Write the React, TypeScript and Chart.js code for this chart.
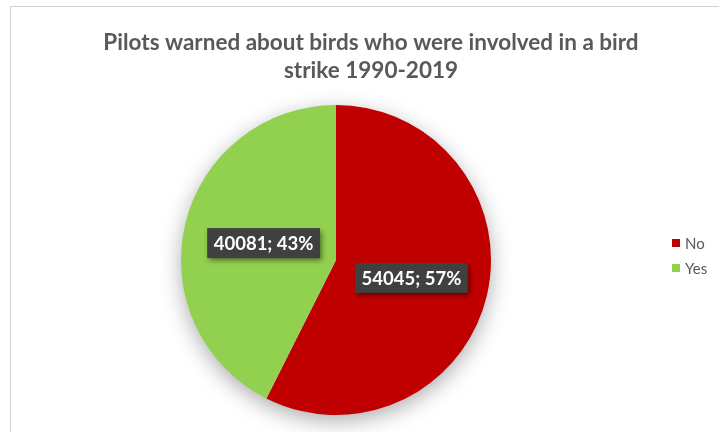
import React, { useEffect, useRef } from "react";
import { Chart, registerables } from "chart.js";

Chart.register(...registerables);

const categories = ["No", "Yes"];
const values = [54045, 40081];
const colors = ["#C00000", "#92D050"];
const titleLines = ["Pilots warned about birds who were involved in a bird", "strike 1990-2019"];

const FONT = "Lato, 'Open Sans', 'Liberation Sans', sans-serif";

const framePlugin = {
  id: "frame",
  beforeDraw(chart: any) {
    const ctx = chart.ctx;
    ctx.save();
    ctx.fillStyle = "#ffffff";
    ctx.fillRect(0, 0, chart.width, chart.height);
    ctx.strokeStyle = "#d0d0d0";
    ctx.lineWidth = 1;
    ctx.beginPath();
    ctx.moveTo(10.5, chart.height + 5);
    ctx.lineTo(10.5, 6.5);
    ctx.lineTo(chart.width + 5, 6.5);
    ctx.stroke();
    // title
    ctx.fillStyle = "#595959";
    ctx.font = `bold 22.5px ${FONT}`;
    ctx.textAlign = "center";
    ctx.textBaseline = "middle";
    titleLines.forEach((t, i) => ctx.fillText(t, 371, 43 + i * 28));
    // legend
    ctx.font = `15px ${FONT}`;
    ctx.textAlign = "left";
    categories.forEach((c, i) => {
      const y = 243 + i * 25;
      ctx.fillStyle = colors[i];
      ctx.fillRect(672, y - 4, 8, 8);
      ctx.fillStyle = "#595959";
      ctx.fillText(c, 685, y + 1);
    });
    ctx.restore();
  },
  beforeDatasetsDraw(chart: any) {
    const meta = chart.getDatasetMeta(0);
    const arc = meta.data[0];
    if (!arc) return;
    const ctx = chart.ctx;
    ctx.save();
    ctx.shadowColor = "rgba(0,0,0,0.35)";
    ctx.shadowBlur = 22;
    ctx.shadowOffsetX = 0;
    ctx.shadowOffsetY = 6;
    ctx.fillStyle = "#ffffff";
    ctx.beginPath();
    ctx.arc(arc.x, arc.y, arc.outerRadius - 1, 0, Math.PI * 2);
    ctx.fill();
    ctx.restore();
  },
  afterDatasetsDraw(chart: any) {
    const meta = chart.getDatasetMeta(0);
    const ds = chart.data.datasets[0].data as number[];
    const total = ds.reduce((a, b) => a + b, 0);
    const ctx = chart.ctx;
    ctx.save();
    ctx.font = `bold 18.5px ${FONT}`;
    ctx.textAlign = "center";
    ctx.textBaseline = "middle";
    meta.data.forEach((el: any, i: number) => {
      const mid = (el.startAngle + el.endAngle) / 2;
      const r = el.outerRadius * 0.5;
      const x = el.x + Math.cos(mid) * r + (i === 1 ? 3 : 0);
      const y = el.y + Math.sin(mid) * r + (i === 0 ? 0 : 1);
      const label = `${ds[i]}; ${Math.round((ds[i] / total) * 100)}%`;
      const w = ctx.measureText(label).width + 13;
      const h = 30;
      ctx.save();
      ctx.shadowColor = "rgba(0,0,0,0.45)";
      ctx.shadowBlur = 5;
      ctx.shadowOffsetX = 2;
      ctx.shadowOffsetY = 3;
      ctx.fillStyle = "#404040";
      ctx.fillRect(x - w / 2, y - h / 2, w, h);
      ctx.restore();
      ctx.fillStyle = "#ffffff";
      ctx.fillText(label, x, y + 1);
    });
    ctx.restore();
  },
};

export default function App() {
  const ref = useRef<HTMLCanvasElement>(null);
  useEffect(() => {
    document.body.style.margin = "0";
    const chart = new Chart(ref.current!, {
      type: "pie",
      data: {
        labels: categories,
        datasets: [
          {
            data: values,
            backgroundColor: colors,
            borderWidth: 0,
          },
        ],
      },
      options: {
        responsive: false,
        animation: false,
        events: [],
        layout: { padding: { left: 181, top: 105, right: 228, bottom: 17 } },
        plugins: {
          legend: { display: false },
          title: { display: false },
          tooltip: { enabled: false },
        },
      },
      plugins: [framePlugin],
    });
    return () => chart.destroy();
  }, []);
  return (
    <div style={{ width: 719, height: 432 }}>
      <canvas ref={ref} width={719} height={432} style={{ display: "block" }} />
    </div>
  );
}
